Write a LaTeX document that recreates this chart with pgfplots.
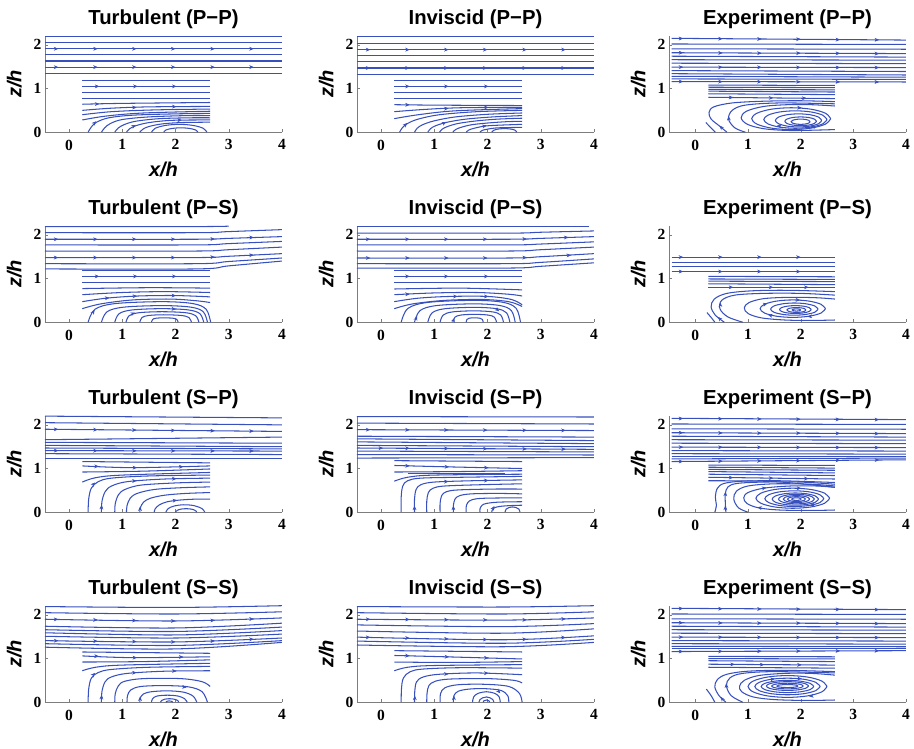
\documentclass[border=0pt]{standalone}
\usepackage{fontspec}
\setmainfont{Liberation Sans}
\newfontfamily\tickfont{Liberation Serif}
\usepackage{pgfplots}
\pgfplotsset{compat=1.18}
\usepgfplotslibrary{groupplots}
\usetikzlibrary{arrows.meta}
\definecolor{slc}{RGB}{55,80,190}
\definecolor{axc}{RGB}{125,125,125}
\pgfplotsset{sl/.style={slc,line width=1.05pt,smooth,tension=0.55,mark=none},
 qv/.style={slc,line width=0.5pt,mark=none,-{Stealth[length=4.5pt,width=3.8pt]},quiver={u=\thisrow{u},v=\thisrow{v}}}}
\begin{document}
\begin{tikzpicture}
\begin{groupplot}[
 group style={group size=3 by 4, horizontal sep=75pt, vertical sep=93.5pt},
 scale only axis, width=237pt, height=96.5pt,
 xmin=-0.45, xmax=4, ymin=0, ymax=2.21,
 axis x line*=bottom, axis y line*=left,
 axis line style={axc,-},
 xtick={0,1,2,3,4}, ytick={0,1,2},
 tick align=inside, major tick length=3pt, tick style={axc},
 ticklabel style={font=\tickfont\bfseries\fontsize{15.5}{17}\selectfont},
 xticklabel style={yshift=-4pt},
 /pgf/number format/assume math mode=true,
 title style={font=\bfseries\fontsize{20.3}{23}\selectfont, yshift=-3pt},
 xlabel={\textbf{\textit{x/h}}}, ylabel={\textbf{\textit{z/h}}},
 label style={font=\fontsize{20}{22}\selectfont},
 xlabel style={yshift=-5pt}, ylabel style={yshift=5pt},
]
% ---------------- r1c1 Turbulent (P-P)
\nextgroupplot[title={Turbulent (P−P)}]
\addplot[sl] coordinates {(-0.45,2.20)(4,2.20)};
\addplot[sl] coordinates {(-0.45,2.05)(4,2.05)};
\addplot[sl] coordinates {(-0.45,1.91)(4,1.91)};
\addplot[sl] coordinates {(-0.45,1.78)(4,1.78)};
\addplot[sl] coordinates {(-0.45,1.63)(4,1.63)};
\addplot[sl] coordinates {(-0.45,1.49)(4,1.49)};
\addplot[sl] coordinates {(-0.45,1.34)(4,1.34)};
\addplot[sl] coordinates {(0.25,1.19)(2.65,1.19)};
\addplot[sl] coordinates {(0.25,1.05)(2.65,1.05)};
\addplot[sl] coordinates {(0.25,0.91)(2.65,0.91)};
\addplot[sl] coordinates {(0.25,0.77)(2.65,0.77)};
\addplot[sl] coordinates {(0.25,0.64)(1.0,0.66)(2.65,0.68)};
\addplot[sl] coordinates {(0.25,0.50)(0.8,0.55)(1.5,0.58)(2.65,0.59)};
\addplot[sl] coordinates {(0.25,0.40)(0.8,0.47)(1.6,0.51)(2.65,0.53)};
\addplot[sl] coordinates {(0.25,0.28)(0.7,0.37)(1.4,0.44)(2.65,0.48)};
\addplot[sl] coordinates {(0.36,0)(0.42,0.12)(0.52,0.23)(0.75,0.33)(1.2,0.39)(2.0,0.42)(2.65,0.43)};
\addplot[sl] coordinates {(0.61,0)(0.67,0.1)(0.78,0.2)(1.0,0.29)(1.5,0.35)(2.2,0.38)(2.65,0.38)};
\addplot[sl] coordinates {(0.86,0)(0.92,0.09)(1.03,0.17)(1.25,0.25)(1.7,0.31)(2.3,0.33)(2.65,0.33)};
\addplot[sl] coordinates {(1.08,0)(1.14,0.08)(1.26,0.15)(1.5,0.22)(1.9,0.27)(2.4,0.28)(2.65,0.28)};
\addplot[sl] coordinates {(1.33,0)(1.39,0.07)(1.5,0.13)(1.75,0.19)(2.1,0.22)(2.65,0.23)};
\addplot[sl] coordinates {(1.55,0)(1.62,0.09)(1.81,0.155)(2.07,0.18)(2.33,0.155)(2.52,0.09)(2.59,0)};
\addplot[sl] coordinates {(1.78,0)(1.82,0.05)(1.94,0.087)(2.1,0.1)(2.26,0.087)(2.38,0.05)(2.42,0)};
\addplot[qv] table {
x y u v
-0.27 1.91 0.07 0
0.47 1.91 0.07 0
1.2 1.91 0.07 0
1.93 1.91 0.07 0
2.67 1.91 0.07 0
3.4 1.91 0.07 0
-0.27 1.49 0.07 0
0.47 1.49 0.07 0
1.2 1.49 0.07 0
1.93 1.49 0.07 0
2.67 1.49 0.07 0
3.4 1.49 0.07 0
0.5 1.05 0.07 0
1.22 1.05 0.07 0
1.95 1.05 0.07 0
0.5 0.645 0.07 0.002
1.2 0.565 0.07 0.002
1.95 0.585 0.07 0.001
0.47 0.2 0.04 0.05
1.2 0.13 0.055 0.035
2.05 0.275 0.07 0.002
};
% ---------------- r1c2 Inviscid (P-P)
\nextgroupplot[title={Inviscid (P−P)}]
\addplot[sl] coordinates {(-0.45,2.19)(4,2.19)};
\addplot[sl] coordinates {(-0.45,2.04)(4,2.04)};
\addplot[sl] coordinates {(-0.45,1.89)(4,1.89)};
\addplot[sl] coordinates {(-0.45,1.76)(4,1.76)};
\addplot[sl] coordinates {(-0.45,1.61)(4,1.61)};
\addplot[sl] coordinates {(-0.45,1.47)(4,1.47)};
\addplot[sl] coordinates {(-0.45,1.32)(4,1.32)};
\addplot[sl] coordinates {(0.25,1.18)(2.65,1.18)};
\addplot[sl] coordinates {(0.25,1.05)(2.65,1.05)};
\addplot[sl] coordinates {(0.25,0.91)(2.65,0.91)};
\addplot[sl] coordinates {(0.25,0.77)(2.65,0.77)};
\addplot[sl] coordinates {(0.25,0.63)(1.0,0.62)(2.65,0.61)};
\addplot[sl] coordinates {(0.25,0.47)(0.8,0.52)(1.5,0.56)(2.65,0.57)};
\addplot[sl] coordinates {(0.25,0.31)(0.7,0.4)(1.4,0.49)(2.65,0.54)};
\addplot[sl] coordinates {(0.35,0)(0.4,0.1)(0.5,0.2)(0.7,0.3)(1.1,0.4)(1.8,0.47)(2.65,0.5)};
\addplot[sl] coordinates {(0.63,0)(0.68,0.09)(0.78,0.17)(1.0,0.26)(1.4,0.35)(2.0,0.41)(2.65,0.44)};
\addplot[sl] coordinates {(0.88,0)(0.93,0.08)(1.03,0.15)(1.25,0.23)(1.6,0.3)(2.1,0.35)(2.65,0.38)};
\addplot[sl] coordinates {(1.10,0)(1.15,0.07)(1.25,0.13)(1.45,0.2)(1.8,0.26)(2.2,0.3)(2.65,0.32)};
\addplot[sl] coordinates {(1.35,0)(1.4,0.06)(1.5,0.11)(1.7,0.17)(2.0,0.21)(2.35,0.24)(2.65,0.25)};
\addplot[sl] coordinates {(1.6,0)(1.65,0.05)(1.75,0.09)(1.95,0.14)(2.2,0.16)(2.65,0.18)};
\addplot[sl] coordinates {(1.86,0)(1.9,0.04)(2.0,0.07)(2.2,0.1)(2.65,0.11)};
\addplot[sl] coordinates {(2.08,0)(2.12,0.045)(2.2,0.072)(2.32,0.082)(2.44,0.072)(2.52,0.045)(2.55,0)};
\addplot[qv] table {
x y u v
-0.27 1.89 0.07 0
0.47 1.89 0.07 0
1.2 1.89 0.07 0
1.93 1.89 0.07 0
2.67 1.89 0.07 0
3.4 1.89 0.07 0
-0.27 1.47 0.07 0
0.47 1.47 0.07 0
1.2 1.47 0.07 0
1.93 1.47 0.07 0
2.67 1.47 0.07 0
3.4 1.47 0.07 0
0.47 1.05 0.07 0
1.2 1.05 0.07 0
1.95 1.05 0.07 0
0.47 0.627 0.07 0
1.2 0.54 0.07 0.004
1.95 0.565 0.07 0.002
0.45 0.16 0.04 0.05
1.17 0.2 0.055 0.035
1.92 0.135 0.065 0.02
};
% ---------------- r1c3 Experiment (P-P)
\nextgroupplot[title={Experiment (P−P)}, xmin=-0.5]
\addplot[sl] coordinates {(-0.45,2.15)(4,2.11)};
\addplot[sl] coordinates {(-0.45,2.02)(4,2.01)};
\addplot[sl] coordinates {(-0.45,1.91)(4,1.90)};
\addplot[sl] coordinates {(-0.45,1.82)(4,1.80)};
\addplot[sl] coordinates {(-0.45,1.74)(4,1.72)};
\addplot[sl] coordinates {(-0.45,1.66)(4,1.65)};
\addplot[sl] coordinates {(-0.45,1.58)(4,1.57)};
\addplot[sl] coordinates {(-0.45,1.49)(4,1.48)};
\addplot[sl] coordinates {(-0.45,1.41)(4,1.39)};
\addplot[sl] coordinates {(-0.45,1.34)(4,1.31)};
\addplot[sl] coordinates {(-0.45,1.28)(4,1.26)};
\addplot[sl] coordinates {(-0.45,1.22)(4,1.21)};
\addplot[sl] coordinates {(-0.45,1.16)(4,1.15)};
\addplot[sl] coordinates {(0.25,1.08)(2.65,1.07)};
\addplot[sl] coordinates {(0.25,1.03)(2.65,1.02)};
\addplot[sl] coordinates {(0.25,0.98)(2.65,0.97)};
\addplot[sl] coordinates {(0.25,0.94)(2.65,0.92)};
\addplot[sl] coordinates {(0.25,0.88)(2.65,0.86)};
\addplot[sl] coordinates {(0.25,0.80)(2.65,0.77)};
\addplot[sl] coordinates {(2.18,0.24)(2.156,0.21)(2.09,0.188)(2.0,0.18)(1.91,0.188)(1.844,0.21)(1.82,0.24)(1.844,0.27)(1.91,0.292)(2.0,0.30)(2.09,0.292)(2.156,0.27)(2.18,0.24)};
\addplot[sl] coordinates {(2.3,0.25)(2.26,0.2)(2.15,0.163)(2.0,0.15)(1.85,0.163)(1.74,0.2)(1.7,0.25)(1.74,0.3)(1.85,0.337)(2.0,0.35)(2.15,0.337)(2.26,0.3)(2.3,0.25)};
\addplot[sl] coordinates {(2.4,0.27)(2.341,0.195)(2.18,0.14)(1.96,0.12)(1.74,0.14)(1.579,0.195)(1.52,0.27)(1.579,0.345)(1.74,0.40)(1.96,0.42)(2.18,0.40)(2.341,0.345)(2.4,0.27)};
\addplot[sl] coordinates {(2.5,0.29)(2.42,0.19)(2.2,0.117)(1.9,0.09)(1.6,0.117)(1.38,0.19)(1.3,0.29)(1.38,0.39)(1.6,0.463)(1.9,0.49)(2.2,0.463)(2.42,0.39)(2.5,0.29)};
\addplot[sl] coordinates {(2.57,0.31)(2.47,0.185)(2.195,0.093)(1.82,0.06)(1.445,0.093)(1.17,0.185)(1.07,0.31)(1.17,0.435)(1.445,0.527)(1.82,0.56)(2.195,0.527)(2.47,0.435)(2.57,0.31)};
\addplot[sl] coordinates {(2.65,0.06)(2.2,0.045)(1.75,0.04)(1.3,0.08)(0.99,0.18)(0.87,0.33)(0.97,0.48)(1.3,0.59)(1.75,0.63)(2.2,0.63)(2.65,0.6)};
\addplot[sl] coordinates {(0.95,0.0)(0.75,0.1)(0.63,0.3)(0.7,0.5)(0.95,0.62)(1.6,0.67)(2.65,0.65)};
\addplot[sl] coordinates {(0.6,0.0)(0.45,0.15)(0.3,0.3)(0.26,0.45)(0.35,0.58)(0.7,0.67)(1.3,0.71)(2.0,0.72)(2.65,0.70)};
\addplot[sl] coordinates {(0.2,0.22)(0.29,0.11)(0.38,0.0)};
\addplot[qv] table {
x y u v
-0.3 2.145 0.07 0
0.45 2.14 0.07 0
1.19 2.135 0.07 0
1.93 2.13 0.07 0
2.68 2.12 0.07 0
3.42 2.115 0.07 0
-0.3 1.82 0.07 0
0.45 1.815 0.07 0
1.19 1.81 0.07 0
1.93 1.81 0.07 0
2.68 1.805 0.07 0
3.42 1.80 0.07 0
-0.3 1.49 0.07 0
0.45 1.488 0.07 0
1.19 1.486 0.07 0
1.93 1.484 0.07 0
2.68 1.482 0.07 0
3.42 1.48 0.07 0
-0.3 1.16 0.07 0
0.45 1.158 0.07 0
1.19 1.156 0.07 0
1.93 1.154 0.07 0
2.68 1.152 0.07 0
3.42 1.15 0.07 0
0.65 0.795 0.07 0
1.41 0.785 0.07 0
2.04 0.777 0.07 0
1.62 0.135 -0.07 0.015
2.25 0.125 -0.07 -0.01
1.95 0.56 0.07 -0.002
0.635 0.3 -0.005 0.07
0.5 0.1 -0.04 0.05
};
% ---------------- r2c1 Turbulent (P-S)
\nextgroupplot[title={Turbulent (P−S)}]
\addplot[sl] coordinates {(-0.45,2.19)(2.4,2.19)(3.0,2.20)};
\addplot[sl] coordinates {(-0.45,2.05)(2.4,2.05)(3.0,2.075)(4,2.12)};
\addplot[sl] coordinates {(-0.45,1.90)(2.4,1.90)(3.0,1.92)(4,1.96)};
\addplot[sl] coordinates {(-0.45,1.77)(2.4,1.77)(3.0,1.80)(4,1.85)};
\addplot[sl] coordinates {(-0.45,1.63)(2.4,1.63)(3.0,1.66)(4,1.72)};
\addplot[sl] coordinates {(-0.45,1.48)(2.4,1.48)(3.0,1.51)(4,1.57)};
\addplot[sl] coordinates {(-0.45,1.34)(2.4,1.34)(3.0,1.39)(4,1.47)};
\addplot[sl] coordinates {(-0.45,1.22)(2.4,1.22)(3.0,1.29)(4,1.40)};
\addplot[sl] coordinates {(0.25,1.18)(2.65,1.18)};
\addplot[sl] coordinates {(0.25,1.05)(2.65,1.05)};
\addplot[sl] coordinates {(0.25,0.91)(2.65,0.91)};
\addplot[sl] coordinates {(0.25,0.77)(1.5,0.79)(2.65,0.78)};
\addplot[sl] coordinates {(0.25,0.63)(1.0,0.68)(1.8,0.70)(2.65,0.68)};
\addplot[sl] coordinates {(0.25,0.47)(0.7,0.55)(1.3,0.60)(2.0,0.61)(2.65,0.58)};
\addplot[sl] coordinates {(0.25,0.31)(0.6,0.42)(1.2,0.51)(1.9,0.53)(2.4,0.49)(2.65,0.45)};
\addplot[sl] coordinates {(0.36,0)(0.488,0.296)(0.874,0.427)(1.75,0.47)(2.323,0.427)(2.576,0.296)(2.66,0)};
\addplot[sl] coordinates {(0.61,0)(0.715,0.239)(1.032,0.345)(1.75,0.38)(2.286,0.345)(2.522,0.239)(2.60,0)};
\addplot[sl] coordinates {(0.86,0)(0.942,0.195)(1.189,0.281)(1.75,0.31)(2.241,0.281)(2.458,0.195)(2.53,0)};
\addplot[sl] coordinates {(1.07,0)(1.133,0.151)(1.322,0.218)(1.75,0.24)(2.185,0.218)(2.377,0.151)(2.44,0)};
\addplot[sl] coordinates {(1.33,0)(1.371,0.107)(1.497,0.154)(1.78,0.17)(2.108,0.154)(2.252,0.107)(2.3,0)};
\addplot[sl] coordinates {(1.55,0)(1.571,0.063)(1.635,0.091)(1.78,0.1)(1.95,0.091)(2.025,0.063)(2.05,0)};
\addplot[qv] table {
x y u v
-0.27 1.90 0.07 0
0.47 1.90 0.07 0
1.2 1.90 0.07 0
1.93 1.90 0.07 0
2.67 1.905 0.07 0.003
3.4 1.94 0.07 0.003
-0.27 1.48 0.07 0
0.47 1.48 0.07 0
1.2 1.48 0.07 0
1.93 1.48 0.07 0
2.67 1.49 0.07 0.004
3.4 1.535 0.07 0.004
0.5 1.05 0.07 0
1.22 1.05 0.07 0
1.95 1.05 0.07 0
0.69 0.55 0.07 0.008
1.21 0.595 0.07 0.003
1.94 0.61 0.07 0
0.45 0.22 0.03 0.06
1.94 0.305 0.07 -0.008
1.18 0.19 0.06 0.03
};
% ---------------- r2c2 Inviscid (P-S)
\nextgroupplot[title={Inviscid (P−S)}]
\addplot[sl] coordinates {(-0.45,2.19)(2.4,2.19)(3.9,2.19)};
\addplot[sl] coordinates {(-0.45,2.04)(2.4,2.04)(3.0,2.06)(4,2.09)};
\addplot[sl] coordinates {(-0.45,1.90)(2.4,1.90)(3.0,1.92)(4,1.96)};
\addplot[sl] coordinates {(-0.45,1.77)(2.4,1.77)(3.0,1.79)(4,1.84)};
\addplot[sl] coordinates {(-0.45,1.63)(2.4,1.63)(3.0,1.66)(4,1.72)};
\addplot[sl] coordinates {(-0.45,1.47)(2.4,1.47)(3.0,1.50)(4,1.57)};
\addplot[sl] coordinates {(-0.45,1.34)(2.4,1.34)(3.0,1.37)(4,1.45)};
\addplot[sl] coordinates {(-0.45,1.24)(2.4,1.24)(3.0,1.28)(4,1.36)};
\addplot[sl] coordinates {(0.25,1.18)(2.65,1.18)};
\addplot[sl] coordinates {(0.25,1.05)(2.65,1.05)};
\addplot[sl] coordinates {(0.25,0.91)(2.65,0.91)};
\addplot[sl] coordinates {(0.25,0.76)(1.5,0.78)(2.65,0.74)};
\addplot[sl] coordinates {(0.25,0.63)(1.0,0.67)(1.8,0.68)(2.4,0.64)(2.65,0.6)};
\addplot[sl] coordinates {(0.25,0.47)(0.7,0.55)(1.3,0.59)(2.0,0.59)(2.45,0.52)(2.65,0.4)};
\addplot[sl] coordinates {(0.25,0.31)(0.6,0.42)(1.2,0.5)(1.9,0.52)(2.4,0.47)(2.65,0.36)};
\addplot[sl] coordinates {(0.38,0)(0.506,0.315)(0.887,0.454)(1.75,0.5)(2.298,0.454)(2.54,0.315)(2.62,0)};
\addplot[sl] coordinates {(0.63,0)(0.733,0.265)(1.044,0.381)(1.75,0.42)(2.235,0.381)(2.449,0.265)(2.52,0)};
\addplot[sl] coordinates {(0.88,0)(0.96,0.214)(1.202,0.309)(1.75,0.34)(2.172,0.309)(2.358,0.214)(2.42,0)};
\addplot[sl] coordinates {(1.11,0)(1.169,0.164)(1.347,0.236)(1.75,0.26)(2.097,0.236)(2.249,0.164)(2.3,0)};
\addplot[sl] coordinates {(1.35,0)(1.387,0.113)(1.498,0.163)(1.75,0.18)(2.015,0.163)(2.131,0.113)(2.17,0)};
\addplot[sl] coordinates {(1.6,0)(1.614,0.063)(1.656,0.091)(1.75,0.1)(1.857,0.091)(1.904,0.063)(1.92,0)};
\addplot[qv] table {
x y u v
-0.27 1.90 0.07 0
0.47 1.90 0.07 0
1.2 1.90 0.07 0
1.93 1.90 0.07 0
2.67 1.905 0.07 0.003
3.45 1.94 0.07 0.003
-0.27 1.47 0.07 0
0.47 1.47 0.07 0
1.2 1.47 0.07 0
1.93 1.47 0.07 0
2.67 1.48 0.07 0.004
3.5 1.53 0.07 0.005
0.47 1.05 0.07 0
1.2 1.05 0.07 0
1.95 1.05 0.07 0
0.47 0.64 0.07 0.003
1.37 0.59 0.07 0
1.95 0.59 0.07 -0.003
0.66 0.08 0.02 0.06
1.36 0.04 0.02 0.06
2.17 0.3 0.05 -0.05
};
% ---------------- r2c3 Experiment (P-S)
\nextgroupplot[title={Experiment (P−S)}, xmin=-0.5]
\addplot[sl] coordinates {(-0.45,1.49)(2.65,1.49)};
\addplot[sl] coordinates {(-0.45,1.37)(2.65,1.37)};
\addplot[sl] coordinates {(-0.45,1.27)(2.65,1.27)};
\addplot[sl] coordinates {(-0.45,1.16)(2.65,1.16)};
\addplot[sl] coordinates {(0.25,1.05)(2.65,1.04)};
\addplot[sl] coordinates {(0.25,0.99)(2.65,0.98)};
\addplot[sl] coordinates {(0.25,0.94)(2.65,0.93)};
\addplot[sl] coordinates {(0.25,0.88)(2.65,0.86)};
\addplot[sl] coordinates {(0.25,0.80)(2.65,0.80)};
\addplot[sl] coordinates {(2.0,0.28)(1.989,0.268)(1.96,0.258)(1.92,0.255)(1.88,0.258)(1.851,0.268)(1.84,0.28)(1.851,0.293)(1.88,0.302)(1.92,0.305)(1.96,0.302)(1.989,0.293)(2.0,0.28)};
\addplot[sl] coordinates {(2.10,0.28)(2.076,0.252)(2.01,0.232)(1.92,0.225)(1.83,0.232)(1.764,0.252)(1.74,0.28)(1.764,0.308)(1.83,0.328)(1.92,0.335)(2.01,0.328)(2.076,0.308)(2.10,0.28)};
\addplot[sl] coordinates {(2.2,0.29)(2.16,0.245)(2.05,0.212)(1.9,0.2)(1.75,0.212)(1.64,0.245)(1.6,0.29)(1.64,0.335)(1.75,0.368)(1.9,0.38)(2.05,0.368)(2.16,0.335)(2.2,0.29)};
\addplot[sl] coordinates {(2.33,0.3)(2.27,0.23)(2.105,0.179)(1.88,0.16)(1.655,0.179)(1.49,0.23)(1.43,0.3)(1.49,0.37)(1.655,0.421)(1.88,0.44)(2.105,0.421)(2.27,0.37)(2.33,0.3)};
\addplot[sl] coordinates {(2.47,0.31)(2.387,0.21)(2.16,0.137)(1.85,0.11)(1.54,0.137)(1.313,0.21)(1.23,0.31)(1.313,0.41)(1.54,0.483)(1.85,0.51)(2.16,0.483)(2.387,0.41)(2.47,0.31)};
\addplot[sl] coordinates {(2.65,0.05)(2.2,0.04)(1.7,0.05)(1.25,0.1)(1.0,0.2)(0.93,0.33)(1.02,0.45)(1.3,0.54)(1.8,0.57)(2.3,0.56)(2.65,0.53)};
\addplot[sl] coordinates {(0.9,0.0)(0.62,0.12)(0.47,0.3)(0.5,0.5)(0.75,0.62)(1.3,0.66)(2.0,0.66)(2.65,0.62)};
\addplot[sl] coordinates {(0.55,0.0)(0.38,0.16)(0.3,0.35)(0.36,0.53)(0.6,0.66)(1.1,0.72)(1.8,0.73)(2.65,0.70)};
\addplot[sl] coordinates {(0.22,0.22)(0.3,0.11)(0.37,0.0)};
\addplot[qv] table {
x y u v
-0.3 1.49 0.07 0
0.45 1.49 0.07 0
1.19 1.49 0.07 0
1.93 1.49 0.07 0
-0.3 1.16 0.07 0
0.45 1.16 0.07 0
1.19 1.16 0.07 0
1.93 1.16 0.07 0
0.65 0.80 0.07 0
1.41 0.80 0.07 0
2.08 0.80 0.07 0
2.2 0.135 -0.07 -0.008
1.45 0.15 -0.07 0.02
1.3 0.405 0.07 0.025
1.92 0.51 0.07 -0.002
0.475 0.38 -0.003 0.07
0.47 0.07 -0.04 0.05
};
% ---------------- r3c1 Turbulent (S-P)
\nextgroupplot[title={Turbulent (S−P)}]
\addplot[sl] coordinates {(-0.45,2.20)(4,2.16)};
\addplot[sl] coordinates {(-0.45,2.05)(4,2.00)};
\addplot[sl] coordinates {(-0.45,1.90)(4,1.85)};
\addplot[sl] coordinates {(-0.45,1.66)(4,1.72)};
\addplot[sl] coordinates {(-0.45,1.60)(4,1.58)};
\addplot[sl] coordinates {(-0.45,1.53)(4,1.50)};
\addplot[sl] coordinates {(-0.45,1.47)(4,1.45)};
\addplot[sl] coordinates {(-0.45,1.41)(4,1.40)};
\addplot[sl] coordinates {(-0.45,1.34)(4,1.32)};
\addplot[sl] coordinates {(-0.45,1.24)(4,1.24)};
\addplot[sl] coordinates {(0.25,1.16)(2.65,1.13)};
\addplot[sl] coordinates {(0.25,1.06)(1.2,1.02)(2.65,1.06)};
\addplot[sl] coordinates {(0.25,0.92)(1.4,0.94)(2.65,0.99)};
\addplot[sl] coordinates {(0.25,0.69)(0.5,0.79)(1.0,0.85)(2.65,0.91)};
\addplot[sl] coordinates {(0.36,0)(0.37,0.3)(0.42,0.55)(0.55,0.7)(0.8,0.78)(1.5,0.83)(2.65,0.85)};
\addplot[sl] coordinates {(0.61,0)(0.62,0.25)(0.68,0.47)(0.8,0.6)(1.1,0.7)(1.8,0.76)(2.65,0.78)};
\addplot[sl] coordinates {(0.86,0)(0.87,0.2)(0.93,0.4)(1.05,0.52)(1.35,0.62)(2.0,0.67)(2.65,0.69)};
\addplot[sl] coordinates {(1.08,0)(1.09,0.15)(1.15,0.32)(1.28,0.43)(1.6,0.52)(2.1,0.56)(2.65,0.58)};
\addplot[sl] coordinates {(1.33,0)(1.34,0.1)(1.4,0.23)(1.53,0.32)(1.8,0.39)(2.2,0.43)(2.65,0.45)};
\addplot[sl] coordinates {(1.6,0)(1.62,0.08)(1.7,0.17)(1.85,0.24)(2.1,0.28)(2.4,0.3)(2.65,0.3)};
\addplot[sl] coordinates {(1.82,0)(1.86,0.08)(1.97,0.14)(2.15,0.17)(2.35,0.15)(2.5,0.08)(2.55,0)};
\addplot[sl] coordinates {(2.0,0)(2.03,0.04)(2.1,0.07)(2.2,0.08)(2.3,0.07)(2.37,0.04)(2.4,0)};
\addplot[qv] table {
x y u v
-0.27 1.898 0.07 0
0.47 1.89 0.07 0
1.2 1.881 0.07 0
1.93 1.872 0.07 0
2.67 1.865 0.07 0
3.4 1.857 0.07 0
-0.27 1.41 0.07 0
0.47 1.408 0.07 0
1.2 1.406 0.07 0
1.93 1.405 0.07 0
2.67 1.403 0.07 0
3.4 1.401 0.07 0
0.49 1.05 0.07 -0.002
1.21 1.02 0.07 0
2.08 1.04 0.07 0.002
0.45 0.63 0.04 0.05
0.61 0.1 0.002 0.07
1.2 0.715 0.07 0.006
1.95 0.765 0.07 0.002
1.335 0.06 0.002 0.07
1.96 0.265 0.07 0.01
};
% ---------------- r3c2 Inviscid (S-P)
\nextgroupplot[title={Inviscid (S−P)}]
\addplot[sl] coordinates {(-0.45,2.19)(4,2.18)};
\addplot[sl] coordinates {(-0.45,2.04)(4,2.02)};
\addplot[sl] coordinates {(-0.45,1.89)(4,1.87)};
\addplot[sl] coordinates {(-0.45,1.74)(4,1.72)};
\addplot[sl] coordinates {(-0.45,1.68)(4,1.64)};
\addplot[sl] coordinates {(-0.45,1.61)(4,1.57)};
\addplot[sl] coordinates {(-0.45,1.53)(4,1.50)};
\addplot[sl] coordinates {(-0.45,1.47)(4,1.44)};
\addplot[sl] coordinates {(-0.45,1.40)(4,1.38)};
\addplot[sl] coordinates {(-0.45,1.32)(4,1.31)};
\addplot[sl] coordinates {(-0.45,1.24)(4,1.25)};
\addplot[sl] coordinates {(0.25,1.18)(2.65,1.16)};
\addplot[sl] coordinates {(0.25,1.07)(1.2,1.04)(2.65,1.0)};
\addplot[sl] coordinates {(0.25,0.92)(1.4,0.93)(2.65,0.95)};
\addplot[sl] coordinates {(0.5,0.88)(1.5,0.88)(2.33,0.88)};
\addplot[sl] coordinates {(0.25,0.71)(0.5,0.8)(1.0,0.85)(2.65,0.87)};
\addplot[sl] coordinates {(0.38,0)(0.38,0.35)(0.41,0.6)(0.5,0.72)(0.75,0.78)(1.5,0.8)(2.65,0.82)};
\addplot[sl] coordinates {(0.63,0)(0.63,0.3)(0.66,0.52)(0.75,0.63)(1.0,0.69)(1.7,0.72)(2.65,0.74)};
\addplot[sl] coordinates {(0.86,0)(0.86,0.25)(0.89,0.45)(0.98,0.55)(1.2,0.6)(1.9,0.63)(2.65,0.65)};
\addplot[sl] coordinates {(1.11,0)(1.11,0.2)(1.14,0.38)(1.23,0.47)(1.45,0.51)(2.1,0.53)(2.65,0.53)};
\addplot[sl] coordinates {(1.36,0)(1.36,0.15)(1.39,0.3)(1.48,0.38)(1.7,0.42)(2.2,0.43)(2.65,0.42)};
\addplot[sl] coordinates {(1.6,0)(1.6,0.12)(1.63,0.22)(1.72,0.29)(1.95,0.32)(2.65,0.33)};
\addplot[sl] coordinates {(1.86,0)(1.86,0.08)(1.9,0.16)(1.98,0.2)(2.2,0.23)(2.65,0.24)};
\addplot[sl] coordinates {(2.08,0)(2.09,0.05)(2.13,0.1)(2.22,0.13)(2.4,0.15)(2.65,0.16)};
\addplot[sl] coordinates {(2.33,0)(2.35,0.07)(2.41,0.11)(2.47,0.12)(2.53,0.11)(2.59,0.07)(2.61,0)};
\addplot[qv] table {
x y u v
-0.27 1.889 0.07 0
0.47 1.886 0.07 0
1.2 1.883 0.07 0
1.93 1.88 0.07 0
2.67 1.876 0.07 0
3.4 1.873 0.07 0
-0.03 1.467 0.07 0
0.47 1.464 0.07 0
1.2 1.459 0.07 0
1.93 1.454 0.07 0
2.67 1.449 0.07 0
3.4 1.444 0.07 0
0.47 1.062 0.07 -0.002
1.21 1.04 0.07 -0.001
1.95 1.02 0.07 -0.002
0.63 0.08 0 0.07
1.2 0.7 0.07 0.003
1.95 0.725 0.07 0.001
1.36 0.08 0 0.07
2.1 0.08 0.03 0.06
};
% ---------------- r3c3 Experiment (S-P)
\nextgroupplot[title={Experiment (S−P)}, xmin=-0.5]
\addplot[sl] coordinates {(-0.45,2.15)(4,2.12)};
\addplot[sl] coordinates {(-0.45,2.02)(4,2.01)};
\addplot[sl] coordinates {(-0.45,1.91)(4,1.90)};
\addplot[sl] coordinates {(-0.45,1.82)(4,1.80)};
\addplot[sl] coordinates {(-0.45,1.74)(4,1.72)};
\addplot[sl] coordinates {(-0.45,1.66)(4,1.65)};
\addplot[sl] coordinates {(-0.45,1.58)(4,1.57)};
\addplot[sl] coordinates {(-0.45,1.49)(4,1.48)};
\addplot[sl] coordinates {(-0.45,1.41)(4,1.40)};
\addplot[sl] coordinates {(-0.45,1.34)(4,1.33)};
\addplot[sl] coordinates {(-0.45,1.28)(4,1.28)};
\addplot[sl] coordinates {(-0.45,1.22)(4,1.24)};
\addplot[sl] coordinates {(-0.45,1.16)(4,1.20)};
\addplot[sl] coordinates {(0.25,1.08)(2.65,1.07)};
\addplot[sl] coordinates {(0.25,1.03)(2.65,1.01)};
\addplot[sl] coordinates {(0.25,0.98)(2.65,0.96)};
\addplot[sl] coordinates {(0.25,0.93)(2.65,0.90)};
\addplot[sl] coordinates {(0.25,0.87)(2.65,0.84)};
\addplot[sl] coordinates {(0.25,0.80)(2.65,0.76)};
\addplot[sl] coordinates {(0.25,0.72)(1.5,0.70)(2.65,0.57)};
\addplot[sl] coordinates {(2.01,0.3)(1.998,0.285)(1.965,0.274)(1.92,0.27)(1.875,0.274)(1.842,0.285)(1.83,0.3)(1.842,0.315)(1.875,0.326)(1.92,0.33)(1.965,0.326)(1.998,0.315)(2.01,0.3)};
\addplot[sl] coordinates {(2.09,0.3)(2.067,0.272)(2.005,0.252)(1.92,0.245)(1.835,0.252)(1.773,0.272)(1.75,0.3)(1.773,0.328)(1.835,0.348)(1.92,0.355)(2.005,0.348)(2.067,0.328)(2.09,0.3)};
\addplot[sl] coordinates {(2.17,0.3)(2.137,0.26)(2.045,0.231)(1.92,0.22)(1.795,0.231)(1.703,0.26)(1.67,0.3)(1.703,0.34)(1.795,0.369)(1.92,0.38)(2.045,0.369)(2.137,0.34)(2.17,0.3)};
\addplot[sl] coordinates {(2.26,0.3)(2.214,0.245)(2.09,0.205)(1.92,0.19)(1.75,0.205)(1.626,0.245)(1.58,0.3)(1.626,0.355)(1.75,0.395)(1.92,0.41)(2.09,0.395)(2.214,0.355)(2.26,0.3)};
\addplot[sl] coordinates {(2.34,0.3)(2.281,0.23)(2.12,0.179)(1.9,0.16)(1.68,0.179)(1.519,0.23)(1.46,0.3)(1.519,0.37)(1.68,0.421)(1.9,0.44)(2.12,0.421)(2.281,0.37)(2.34,0.3)};
\addplot[sl] coordinates {(2.44,0.31)(2.365,0.22)(2.16,0.154)(1.88,0.13)(1.6,0.154)(1.395,0.22)(1.32,0.31)(1.395,0.4)(1.6,0.466)(1.88,0.49)(2.16,0.466)(2.365,0.4)(2.44,0.31)};
\addplot[sl] coordinates {(2.55,0.32)(2.456,0.205)(2.2,0.121)(1.85,0.09)(1.5,0.121)(1.244,0.205)(1.15,0.32)(1.244,0.435)(1.5,0.519)(1.85,0.55)(2.2,0.519)(2.456,0.435)(2.55,0.32)};
\addplot[sl] coordinates {(2.65,0.05)(2.2,0.04)(1.6,0.05)(1.2,0.1)(0.98,0.2)(0.92,0.33)(1.0,0.45)(1.3,0.55)(1.8,0.6)(2.3,0.6)(2.65,0.57)};
\addplot[sl] coordinates {(1.0,0.0)(0.82,0.1)(0.73,0.3)(0.78,0.48)(1.0,0.6)(1.5,0.65)(2.2,0.64)(2.65,0.6)};
\addplot[sl] coordinates {(0.37,0.0)(0.4,0.15)(0.38,0.35)(0.42,0.55)(0.55,0.66)(0.9,0.71)(1.6,0.72)(2.65,0.68)};
\addplot[sl] coordinates {(0.58,0.0)(0.57,0.2)(0.57,0.42)(0.62,0.58)(0.8,0.66)(1.3,0.69)(2.0,0.69)(2.65,0.64)};
\addplot[qv] table {
x y u v
-0.3 2.145 0.07 0
0.45 2.14 0.07 0
1.19 2.135 0.07 0
1.93 2.13 0.07 0
2.68 2.125 0.07 0
3.42 2.12 0.07 0
-0.3 1.82 0.07 0
0.45 1.815 0.07 0
1.19 1.81 0.07 0
1.93 1.81 0.07 0
2.68 1.805 0.07 0
3.42 1.80 0.07 0
-0.3 1.49 0.07 0
0.45 1.488 0.07 0
1.19 1.486 0.07 0
1.93 1.484 0.07 0
2.68 1.482 0.07 0
3.42 1.48 0.07 0
-0.3 1.161 0.07 0.001
0.45 1.168 0.07 0.001
1.19 1.175 0.07 0.001
1.93 1.181 0.07 0.001
2.68 1.188 0.07 0.001
3.42 1.195 0.07 0.001
0.65 0.793 0.07 0
1.41 0.78 0.07 0
2.08 0.77 0.07 0
2.25 0.17 -0.07 -0.015
1.94 0.548 0.07 0
1.25 0.095 -0.07 0.02
1.28 0.548 0.07 0.012
0.57 0.08 0 0.07
0.57 0.4 0.003 0.07
};
% ---------------- r4c1 Turbulent (S-S)
\nextgroupplot[title={Turbulent (S−S)}]
\addplot[sl] coordinates {(-0.45,2.19)(2.0,2.17)(4,2.21)};
\addplot[sl] coordinates {(-0.45,2.05)(2.0,2.02)(4,2.07)};
\addplot[sl] coordinates {(-0.45,1.90)(2.0,1.86)(4,1.93)};
\addplot[sl] coordinates {(-0.45,1.74)(2.0,1.70)(4,1.81)};
\addplot[sl] coordinates {(-0.45,1.66)(2.0,1.62)(4,1.72)};
\addplot[sl] coordinates {(-0.45,1.59)(2.0,1.54)(4,1.64)};
\addplot[sl] coordinates {(-0.45,1.51)(2.0,1.47)(4,1.56)};
\addplot[sl] coordinates {(-0.45,1.41)(2.0,1.38)(4,1.47)};
\addplot[sl] coordinates {(-0.45,1.34)(2.0,1.30)(4,1.41)};
\addplot[sl] coordinates {(-0.45,1.26)(2.0,1.22)(4,1.37)};
\addplot[sl] coordinates {(0.25,1.15)(2.65,1.12)};
\addplot[sl] coordinates {(0.25,1.06)(1.2,1.02)(2.65,1.04)};
\addplot[sl] coordinates {(0.25,0.92)(1.4,0.93)(2.65,0.97)};
\addplot[sl] coordinates {(0.25,0.72)(0.5,0.8)(1.0,0.85)(2.65,0.89)};
\addplot[sl] coordinates {(0.36,0)(0.37,0.3)(0.42,0.55)(0.55,0.68)(0.8,0.75)(1.5,0.8)(2.65,0.82)};
\addplot[sl] coordinates {(0.61,0)(0.62,0.25)(0.68,0.47)(0.8,0.58)(1.1,0.66)(1.8,0.71)(2.65,0.72)};
\addplot[sl] coordinates {(0.86,0)(0.87,0.2)(0.93,0.38)(1.05,0.48)(1.4,0.54)(2.1,0.54)(2.5,0.47)(2.65,0.36)};
\addplot[sl] coordinates {(1.09,0)(1.1,0.15)(1.16,0.28)(1.35,0.36)(1.8,0.38)(2.25,0.35)(2.5,0.24)(2.6,0)};
\addplot[sl] coordinates {(1.33,0)(1.34,0.1)(1.4,0.19)(1.55,0.24)(1.85,0.26)(2.15,0.23)(2.33,0.14)(2.4,0)};
\addplot[sl] coordinates {(1.55,0)(1.57,0.08)(1.65,0.14)(1.85,0.16)(2.05,0.14)(2.17,0.08)(2.22,0)};
\addplot[sl] coordinates {(1.72,0)(1.74,0.04)(1.8,0.07)(1.88,0.08)(1.97,0.07)(2.04,0.04)(2.06,0)};
\addplot[sl] coordinates {(1.82,0)(1.84,0.02)(1.88,0.03)(1.93,0.02)(1.95,0)};
\addplot[qv] table {
x y u v
-0.27 1.897 0.07 0
0.47 1.885 0.07 0
1.2 1.872 0.07 0
1.93 1.861 0.07 0
2.67 1.872 0.07 0.002
3.4 1.905 0.07 0.003
-0.27 1.408 0.07 0
0.47 1.398 0.07 0
1.2 1.39 0.07 0
1.93 1.381 0.07 0
2.67 1.40 0.07 0.003
3.4 1.44 0.07 0.004
0.49 1.055 0.07 -0.002
1.21 1.02 0.07 0
2.08 1.035 0.07 0.001
0.45 0.62 0.04 0.05
0.61 0.1 0.002 0.07
1.2 0.675 0.07 0.005
1.95 0.715 0.07 0.001
2.14 0.35 0.07 -0.01
1.335 0.06 0.002 0.07
};
% ---------------- r4c2 Inviscid (S-S)
\nextgroupplot[title={Inviscid (S−S)}]
\addplot[sl] coordinates {(-0.45,2.19)(2.3,2.18)(4,2.21)};
\addplot[sl] coordinates {(-0.45,2.05)(2.3,2.02)(4,2.07)};
\addplot[sl] coordinates {(-0.45,1.90)(2.3,1.88)(4,1.93)};
\addplot[sl] coordinates {(-0.45,1.77)(2.3,1.73)(4,1.80)};
\addplot[sl] coordinates {(-0.45,1.63)(2.3,1.58)(4,1.68)};
\addplot[sl] coordinates {(-0.45,1.49)(2.3,1.43)(4,1.52)};
\addplot[sl] coordinates {(-0.45,1.40)(2.3,1.35)(4,1.44)};
\addplot[sl] coordinates {(-0.45,1.31)(2.3,1.27)(4,1.37)};
\addplot[sl] coordinates {(0.25,1.18)(2.65,1.15)};
\addplot[sl] coordinates {(0.25,1.07)(1.2,1.04)(2.65,0.99)};
\addplot[sl] coordinates {(0.25,0.92)(1.4,0.91)(2.65,0.93)};
\addplot[sl] coordinates {(0.25,0.72)(0.5,0.8)(1.0,0.84)(2.65,0.86)};
\addplot[sl] coordinates {(0.38,0)(0.385,0.3)(0.42,0.55)(0.55,0.7)(0.8,0.76)(1.5,0.79)(2.65,0.78)};
\addplot[sl] coordinates {(0.63,0)(0.635,0.25)(0.67,0.47)(0.8,0.58)(1.1,0.64)(1.8,0.67)(2.65,0.63)};
\addplot[sl] coordinates {(0.86,0)(0.865,0.2)(0.9,0.38)(1.02,0.48)(1.3,0.53)(2.0,0.54)(2.5,0.5)(2.65,0.44)};
\addplot[sl] coordinates {(1.11,0)(1.12,0.2)(1.2,0.33)(1.45,0.4)(1.95,0.41)(2.4,0.36)(2.6,0.2)(2.65,0)};
\addplot[sl] coordinates {(1.36,0)(1.37,0.15)(1.45,0.25)(1.65,0.3)(1.95,0.31)(2.25,0.27)(2.38,0.15)(2.4,0)};
\addplot[sl] coordinates {(1.72,0)(1.74,0.12)(1.82,0.2)(1.98,0.24)(2.14,0.2)(2.22,0.12)(2.24,0)};
\addplot[sl] coordinates {(1.84,0)(1.86,0.06)(1.91,0.1)(1.98,0.12)(2.05,0.1)(2.1,0.06)(2.12,0)};
\addplot[sl] coordinates {(1.92,0)(1.93,0.03)(1.98,0.05)(2.03,0.03)(2.04,0)};
\addplot[qv] table {
x y u v
-0.27 1.90 0.07 0
0.47 1.895 0.07 0
1.2 1.89 0.07 0
1.93 1.885 0.07 0
2.67 1.885 0.07 0.001
3.4 1.905 0.07 0.002
-0.27 1.486 0.07 0
0.47 1.47 0.07 -0.002
1.2 1.452 0.07 -0.002
1.93 1.436 0.07 -0.001
2.67 1.44 0.07 0.002
3.4 1.48 0.07 0.003
0.47 1.065 0.07 -0.002
1.21 1.04 0.07 -0.002
1.95 1.015 0.07 -0.002
0.635 0.08 0 0.07
1.2 0.645 0.07 0.004
1.95 0.665 0.07 0
1.37 0.08 0.002 0.07
2.2 0.26 0.04 -0.055
};
% ---------------- r4c3 Experiment (S-S)
\nextgroupplot[title={Experiment (S−S)}, xmin=-0.5]
\addplot[sl] coordinates {(-0.45,2.15)(4,2.12)};
\addplot[sl] coordinates {(-0.45,2.02)(4,2.01)};
\addplot[sl] coordinates {(-0.45,1.91)(4,1.90)};
\addplot[sl] coordinates {(-0.45,1.82)(4,1.80)};
\addplot[sl] coordinates {(-0.45,1.74)(4,1.72)};
\addplot[sl] coordinates {(-0.45,1.66)(4,1.65)};
\addplot[sl] coordinates {(-0.45,1.58)(4,1.57)};
\addplot[sl] coordinates {(-0.45,1.49)(4,1.48)};
\addplot[sl] coordinates {(-0.45,1.41)(4,1.40)};
\addplot[sl] coordinates {(-0.45,1.34)(4,1.33)};
\addplot[sl] coordinates {(-0.45,1.28)(4,1.27)};
\addplot[sl] coordinates {(-0.45,1.22)(4,1.22)};
\addplot[sl] coordinates {(-0.45,1.16)(4,1.18)};
\addplot[sl] coordinates {(0.25,1.05)(2.65,1.04)};
\addplot[sl] coordinates {(0.25,1.00)(2.65,0.99)};
\addplot[sl] coordinates {(0.25,0.95)(2.65,0.93)};
\addplot[sl] coordinates {(0.25,0.87)(2.65,0.85)};
\addplot[sl] coordinates {(0.25,0.80)(2.65,0.78)};
\addplot[sl] coordinates {(1.95,0.37)(1.923,0.353)(1.85,0.34)(1.75,0.335)(1.65,0.34)(1.577,0.353)(1.55,0.37)(1.577,0.388)(1.65,0.4)(1.75,0.405)(1.85,0.4)(1.923,0.388)(1.95,0.37)};
\addplot[sl] coordinates {(2.05,0.37)(2.01,0.338)(1.9,0.314)(1.75,0.305)(1.6,0.314)(1.49,0.338)(1.45,0.37)(1.49,0.403)(1.6,0.426)(1.75,0.435)(1.9,0.426)(2.01,0.403)(2.05,0.37)};
\addplot[sl] coordinates {(2.15,0.37)(2.096,0.32)(1.95,0.283)(1.75,0.27)(1.55,0.283)(1.404,0.32)(1.35,0.37)(1.404,0.42)(1.55,0.457)(1.75,0.47)(1.95,0.457)(2.096,0.42)(2.15,0.37)};
\addplot[sl] coordinates {(2.25,0.36)(2.183,0.29)(2.0,0.239)(1.75,0.22)(1.5,0.239)(1.317,0.29)(1.25,0.36)(1.317,0.43)(1.5,0.481)(1.75,0.5)(2.0,0.481)(2.183,0.43)(2.25,0.36)};
\addplot[sl] coordinates {(2.37,0.36)(2.287,0.265)(2.06,0.195)(1.75,0.17)(1.44,0.195)(1.213,0.265)(1.13,0.36)(1.213,0.455)(1.44,0.525)(1.75,0.55)(2.06,0.525)(2.287,0.455)(2.37,0.36)};
\addplot[sl] coordinates {(2.5,0.36)(2.4,0.235)(2.125,0.143)(1.75,0.11)(1.375,0.143)(1.1,0.235)(1.0,0.36)(1.1,0.485)(1.375,0.577)(1.75,0.61)(2.125,0.577)(2.4,0.485)(2.5,0.36)};
\addplot[sl] coordinates {(2.65,0.05)(2.1,0.04)(1.5,0.06)(1.1,0.12)(0.88,0.24)(0.84,0.37)(0.93,0.5)(1.2,0.61)(1.7,0.66)(2.2,0.66)(2.65,0.62)};
\addplot[sl] coordinates {(0.58,0.0)(0.45,0.15)(0.37,0.35)(0.42,0.52)(0.6,0.64)(1.0,0.71)(1.7,0.73)(2.65,0.70)};
\addplot[sl] coordinates {(0.9,0.0)(0.68,0.15)(0.59,0.38)(0.66,0.56)(0.9,0.66)(1.5,0.7)(2.65,0.67)};
\addplot[sl] coordinates {(0.21,0.3)(0.3,0.15)(0.37,0.0)};
\addplot[qv] table {
x y u v
-0.3 2.145 0.07 0
0.45 2.14 0.07 0
1.19 2.135 0.07 0
1.93 2.13 0.07 0
2.68 2.125 0.07 0
3.42 2.12 0.07 0
-0.3 1.82 0.07 0
0.45 1.815 0.07 0
1.19 1.81 0.07 0
1.93 1.81 0.07 0
2.68 1.805 0.07 0
3.42 1.80 0.07 0
-0.3 1.49 0.07 0
0.45 1.488 0.07 0
1.19 1.486 0.07 0
1.93 1.484 0.07 0
2.68 1.482 0.07 0
3.42 1.48 0.07 0
-0.3 1.161 0.07 0
0.45 1.164 0.07 0
1.19 1.168 0.07 0
1.93 1.171 0.07 0
2.68 1.174 0.07 0
3.42 1.178 0.07 0
0.68 0.866 0.07 0
1.24 0.86 0.07 0
1.95 0.855 0.07 0
1.44 0.525 0.07 0.012
1.95 0.542 0.07 -0.005
2.23 0.145 -0.07 -0.012
0.52 0.06 -0.035 0.06
0.59 0.36 -0.004 0.07
};
\end{groupplot}
\pgfresetboundingbox
\path ([shift={(-45pt,35.7pt)}]group c1r1.north west) rectangle ([shift={(869pt,-713.3pt)}]group c1r1.north west);
\end{tikzpicture}
\end{document}
